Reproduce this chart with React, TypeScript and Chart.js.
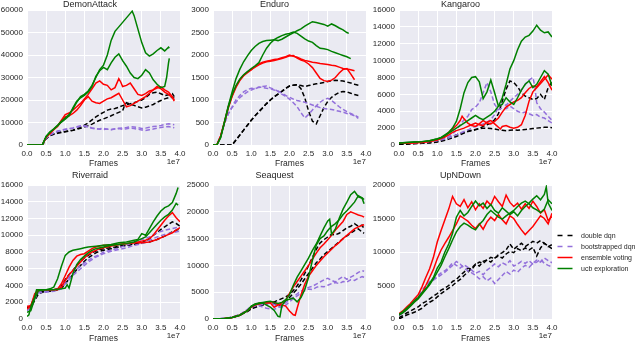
import React, { useEffect, useRef } from 'react';
import { Chart, registerables } from 'chart.js';

Chart.register(...registerables);

// x values are in units of 1e7 frames; y values are game scores.
type Pt = [number, number];

// ---------------- DemonAttack ----------------
const DA_DDQN_A: Pt[] = [[0,0],[0.4,0],[0.5,2800],[0.6,4300],[0.7,5000],[0.8,5400],[0.9,5800],[1.0,6000],[1.1,6300],[1.2,6600],[1.3,7200],[1.4,8000],[1.5,8800],[1.6,9800],[1.7,11200],[1.8,12500],[1.9,13600],[2.0,14500],[2.1,15500],[2.2,16000],[2.3,16200],[2.4,16800],[2.5,17500],[2.6,18000],[2.7,18300],[2.8,18800],[2.9,19400],[3.0,20000],[3.1,21000],[3.2,22500],[3.3,23200],[3.4,23500],[3.5,22800],[3.6,22000],[3.7,22300],[3.8,22800],[3.85,21500]];
const DA_DDQN_B: Pt[] = [[0,0],[0.4,0],[0.5,2800],[0.6,4200],[0.7,4800],[0.8,5200],[0.9,5600],[1.0,5900],[1.1,6200],[1.2,6500],[1.3,7000],[1.4,7400],[1.5,8000],[1.6,8600],[1.7,9300],[1.8,10200],[1.9,11000],[2.0,11600],[2.1,12300],[2.2,13000],[2.3,13800],[2.4,14500],[2.5,15200],[2.55,17500],[2.6,18800],[2.7,18200],[2.8,17600],[2.9,17000],[3.0,16500],[3.1,16800],[3.2,17400],[3.3,18000],[3.4,19000],[3.5,19800],[3.6,20500],[3.7,21000],[3.8,21200],[3.85,20800]];
const DA_BOOT_A: Pt[] = [[0,0],[0.4,0],[0.5,3000],[0.6,4500],[0.7,5500],[0.8,6200],[0.9,6600],[1.0,7000],[1.1,7300],[1.2,7500],[1.3,7900],[1.4,8300],[1.5,8600],[1.6,8200],[1.7,7600],[1.8,7300],[1.9,7000],[2.0,6900],[2.1,7100],[2.2,6900],[2.3,7200],[2.4,7400],[2.5,7600],[2.6,7800],[2.7,8100],[2.8,8000],[2.9,7700],[3.0,7300],[3.1,7500],[3.2,7900],[3.3,8200],[3.4,8400],[3.5,8700],[3.6,9100],[3.7,9400],[3.8,9200],[3.85,9000]];
const DA_BOOT_B: Pt[] = [[0,0],[0.4,0],[0.5,3000],[0.6,4400],[0.7,5300],[0.8,6000],[0.9,6500],[1.0,6900],[1.1,7200],[1.2,7600],[1.3,8100],[1.4,8500],[1.5,8300],[1.6,7900],[1.7,7400],[1.8,7100],[1.9,7200],[2.0,7400],[2.1,7000],[2.2,6800],[2.3,7100],[2.4,7300],[2.5,7000],[2.6,7200],[2.7,7500],[2.8,7300],[2.9,7000],[3.0,6700],[3.1,6500],[3.2,6800],[3.3,7100],[3.4,7500],[3.5,7800],[3.6,8000],[3.7,8200],[3.8,7900],[3.85,7700]];
const DA_ENS_A: Pt[] = [[0,0],[0.4,0],[0.5,3500],[0.6,5200],[0.7,7000],[0.8,8500],[0.9,11000],[1.0,13500],[1.1,14200],[1.2,15500],[1.3,17000],[1.4,18500],[1.5,20500],[1.6,22500],[1.7,25000],[1.8,27500],[1.9,28500],[2.0,27000],[2.1,26500],[2.2,24500],[2.3,25500],[2.4,29500],[2.45,28000],[2.5,26000],[2.6,26500],[2.7,27500],[2.8,25000],[2.9,22500],[3.0,22000],[3.1,22800],[3.2,24000],[3.3,24500],[3.4,25300],[3.5,25800],[3.6,24500],[3.7,23500],[3.8,21500],[3.85,20000]];
const DA_ENS_B: Pt[] = [[0,0],[0.4,0],[0.5,3500],[0.6,5000],[0.7,6800],[0.8,8200],[0.9,10500],[1.0,12500],[1.1,13000],[1.2,14000],[1.3,15500],[1.4,17500],[1.5,20000],[1.6,21500],[1.7,19500],[1.8,18800],[1.9,18500],[2.0,19500],[2.1,20500],[2.2,21000],[2.3,22000],[2.4,23000],[2.5,20000],[2.6,17000],[2.7,17500],[2.8,18500],[2.9,19500],[3.0,20500],[3.1,21500],[3.2,23000],[3.3,24500],[3.4,26000],[3.5,25000],[3.6,23500],[3.7,22500],[3.8,21000],[3.85,19500]];
const DA_UCB_A: Pt[] = [[0,0],[0.4,0],[0.5,3800],[0.6,5800],[0.7,7200],[0.8,8800],[0.9,10500],[1.0,12000],[1.1,13500],[1.2,16000],[1.3,19000],[1.4,21500],[1.5,22500],[1.6,24000],[1.7,26500],[1.8,30000],[1.9,33500],[2.0,35500],[2.1,40000],[2.2,46500],[2.3,50500],[2.4,52500],[2.5,54500],[2.6,56500],[2.7,58500],[2.75,59500],[2.8,57500],[2.9,51500],[3.0,45500],[3.1,41000],[3.2,39500],[3.3,40500],[3.4,42000],[3.5,43200],[3.6,41800],[3.7,43500],[3.72,43000]];
const DA_UCB_B: Pt[] = [[0,0],[0.4,0],[0.5,3800],[0.6,5700],[0.7,7000],[0.8,8600],[0.9,10200],[1.0,11500],[1.1,13000],[1.2,16500],[1.3,19500],[1.4,21000],[1.5,22000],[1.6,23500],[1.7,26000],[1.8,30500],[1.9,33000],[2.0,34500],[2.1,33500],[2.2,36500],[2.3,39000],[2.4,40500],[2.5,37500],[2.6,35000],[2.7,32000],[2.8,30000],[2.9,29500],[3.0,31000],[3.1,33500],[3.2,32000],[3.3,29000],[3.4,27000],[3.5,25500],[3.6,26000],[3.65,30000],[3.7,36500],[3.72,38500]];

// ---------------- Enduro ----------------
const EN_DDQN_A: Pt[] = [[0,0],[0.5,0],[0.6,110],[0.7,220],[0.8,330],[0.9,440],[1.0,550],[1.1,650],[1.2,740],[1.3,830],[1.4,920],[1.5,1000],[1.6,1070],[1.7,1130],[1.8,1190],[1.9,1260],[2.0,1310],[2.1,1330],[2.2,1340],[2.3,1320],[2.4,1300],[2.5,1320],[2.6,1340],[2.7,1360],[2.8,1370],[2.9,1390],[3.0,1410],[3.1,1430],[3.2,1440],[3.3,1430],[3.4,1420],[3.5,1400],[3.6,1380],[3.7,1350],[3.8,1330]];
const EN_DDQN_B: Pt[] = [[0,0],[0.5,0],[0.6,110],[0.7,220],[0.8,330],[0.9,440],[1.0,550],[1.1,650],[1.2,740],[1.3,830],[1.4,920],[1.5,1000],[1.6,1070],[1.7,1130],[1.8,1190],[1.9,1260],[2.0,1310],[2.1,1330],[2.2,1340],[2.3,1250],[2.4,1050],[2.5,750],[2.6,530],[2.7,470],[2.8,650],[2.9,830],[3.0,970],[3.1,1060],[3.2,1120],[3.3,1170],[3.4,1190],[3.5,1180],[3.6,1150],[3.7,1120],[3.8,1100]];
const EN_BOOT_A: Pt[] = [[0,0],[0.1,0],[0.2,200],[0.3,480],[0.4,700],[0.5,850],[0.6,1000],[0.7,1100],[0.8,1180],[0.9,1230],[1.0,1260],[1.1,1250],[1.2,1280],[1.3,1300],[1.4,1310],[1.5,1270],[1.6,1240],[1.7,1190],[1.8,1130],[1.9,1080],[2.0,1020],[2.1,940],[2.2,850],[2.3,720],[2.4,600],[2.5,680],[2.6,780],[2.7,870],[2.8,950],[2.9,1010],[3.0,1040],[3.1,990],[3.2,920],[3.3,850],[3.4,790],[3.5,740],[3.6,700],[3.7,660],[3.8,620]];
const EN_BOOT_B: Pt[] = [[0,0],[0.1,0],[0.2,200],[0.3,480],[0.4,690],[0.5,830],[0.6,950],[0.7,1050],[0.8,1120],[0.9,1180],[1.0,1220],[1.1,1260],[1.2,1290],[1.3,1280],[1.4,1260],[1.5,1250],[1.6,1220],[1.7,1200],[1.8,1150],[1.9,1100],[2.0,1060],[2.1,1020],[2.2,990],[2.3,970],[2.4,950],[2.5,920],[2.6,890],[2.7,860],[2.8,830],[2.9,810],[3.0,800],[3.1,790],[3.2,770],[3.3,750],[3.4,730],[3.5,700],[3.6,680],[3.7,650],[3.8,590]];
const EN_ENS_A: Pt[] = [[0,0],[0.1,0],[0.2,200],[0.3,520],[0.4,850],[0.5,1100],[0.6,1300],[0.7,1450],[0.8,1550],[0.9,1620],[1.0,1680],[1.1,1730],[1.2,1780],[1.3,1820],[1.4,1850],[1.5,1860],[1.6,1880],[1.7,1900],[1.8,1920],[1.9,1950],[2.0,1980],[2.1,1990],[2.2,1930],[2.3,1890],[2.4,1860],[2.5,1800],[2.6,1720],[2.7,1600],[2.8,1480],[2.9,1430],[3.0,1410],[3.1,1440],[3.2,1500],[3.3,1600],[3.4,1680],[3.5,1700],[3.6,1580],[3.7,1450]];
const EN_ENS_B: Pt[] = [[0,0],[0.1,0],[0.2,200],[0.3,500],[0.4,820],[0.5,1080],[0.6,1280],[0.7,1430],[0.8,1540],[0.9,1610],[1.0,1670],[1.1,1740],[1.2,1800],[1.3,1840],[1.4,1860],[1.5,1880],[1.6,1900],[1.7,1910],[1.8,1940],[1.9,1960],[2.0,2000],[2.1,1970],[2.2,1950],[2.3,1910],[2.4,1880],[2.5,1860],[2.6,1840],[2.7,1830],[2.8,1810],[2.9,1800],[3.0,1790],[3.1,1770],[3.2,1760],[3.3,1730],[3.4,1700],[3.5,1690],[3.6,1670],[3.7,1650]];
const EN_UCB_A: Pt[] = [[0,0],[0.1,0],[0.2,170],[0.3,520],[0.4,870],[0.5,1180],[0.6,1470],[0.7,1680],[0.8,1850],[0.9,1980],[1.0,2100],[1.1,2190],[1.2,2260],[1.3,2300],[1.4,2320],[1.5,2330],[1.6,2340],[1.7,2320],[1.8,2350],[1.9,2400],[2.0,2450],[2.1,2490],[2.2,2540],[2.3,2580],[2.4,2640],[2.5,2690],[2.6,2740],[2.7,2720],[2.8,2700],[2.9,2680],[3.0,2640],[3.1,2690],[3.2,2650],[3.3,2600],[3.4,2560],[3.5,2500],[3.55,2480]];
const EN_UCB_B: Pt[] = [[0,0],[0.1,0],[0.2,160],[0.3,500],[0.4,840],[0.5,1120],[0.6,1320],[0.7,1460],[0.8,1560],[0.9,1630],[1.0,1700],[1.1,1760],[1.2,1830],[1.3,2000],[1.4,2150],[1.5,2260],[1.6,2340],[1.7,2390],[1.8,2430],[1.9,2460],[2.0,2480],[2.1,2510],[2.2,2480],[2.3,2420],[2.4,2360],[2.5,2310],[2.6,2280],[2.7,2210],[2.8,2150],[2.9,2140],[3.0,2120],[3.1,2080],[3.2,2050],[3.3,2020],[3.4,1990],[3.5,1960],[3.6,1920]];

// ---------------- Kangaroo ----------------
const KA_DDQN_A: Pt[] = [[0,100],[0.2,150],[0.4,200],[0.6,250],[0.8,300],[1.0,400],[1.1,500],[1.2,700],[1.3,850],[1.4,1000],[1.5,1200],[1.6,1350],[1.7,1500],[1.8,1650],[1.9,1750],[2.0,1850],[2.1,1950],[2.2,2000],[2.3,2000],[2.4,1950],[2.5,1900],[2.6,1800],[2.7,1750],[2.8,1700],[2.9,1750],[3.0,1800],[3.1,1750],[3.2,1800],[3.3,1850],[3.4,1900],[3.5,1950],[3.6,2000],[3.7,2050],[3.8,2100],[3.9,2100],[4.0,2050]];
const KA_DDQN_B: Pt[] = [[0,100],[0.2,100],[0.4,150],[0.6,200],[0.8,250],[1.0,350],[1.1,450],[1.2,550],[1.3,700],[1.4,850],[1.5,1000],[1.6,1200],[1.7,1400],[1.8,1600],[1.9,1700],[2.0,1800],[2.1,1950],[2.2,2200],[2.3,2400],[2.4,2600],[2.5,3000],[2.6,3700],[2.7,5200],[2.8,6600],[2.9,7600],[3.0,7400],[3.1,6900],[3.2,6200],[3.3,5800],[3.4,5600],[3.5,5400],[3.6,5500],[3.7,6000],[3.8,5400],[3.9,6800],[4.0,7500]];
const KA_BOOT_A: Pt[] = [[0,200],[0.2,250],[0.4,300],[0.6,350],[0.8,450],[1.0,600],[1.1,700],[1.2,800],[1.3,1000],[1.4,1300],[1.5,1800],[1.6,2400],[1.7,3000],[1.8,3400],[1.9,4200],[2.0,4500],[2.1,5000],[2.2,6200],[2.3,7400],[2.4,6300],[2.5,4800],[2.6,4200],[2.7,4400],[2.8,4300],[2.9,4600],[3.0,4300],[3.1,4000],[3.2,3800],[3.3,3900],[3.4,3700],[3.5,3500],[3.6,3600],[3.7,3300],[3.8,3200],[3.9,2900],[4.0,2600]];
const KA_BOOT_B: Pt[] = [[0,200],[0.2,200],[0.4,250],[0.6,300],[0.8,400],[1.0,500],[1.2,700],[1.4,1000],[1.5,1200],[1.6,1400],[1.7,1600],[1.8,1800],[1.9,2000],[2.0,2200],[2.1,2300],[2.2,2500],[2.3,2700],[2.4,3000],[2.5,3600],[2.6,4500],[2.7,4900],[2.8,4700],[2.9,5200],[3.0,5600],[3.1,6000],[3.2,6500],[3.3,7200],[3.4,7700],[3.5,8000],[3.55,7000],[3.6,5000],[3.7,4300],[3.8,3900],[3.9,3400],[4.0,2900]];
const KA_ENS_A: Pt[] = [[0,200],[0.2,250],[0.4,300],[0.6,350],[0.8,450],[1.0,650],[1.1,800],[1.2,1100],[1.3,1500],[1.4,1900],[1.5,2300],[1.6,2900],[1.65,3400],[1.7,3100],[1.8,2600],[1.9,2300],[2.0,2200],[2.1,2500],[2.2,2900],[2.3,2600],[2.4,2500],[2.5,2800],[2.6,3200],[2.7,3900],[2.8,4500],[2.9,4800],[3.0,5100],[3.1,5300],[3.2,5600],[3.3,6200],[3.4,6700],[3.5,7000],[3.6,6900],[3.7,7500],[3.8,8100],[3.9,7400],[4.0,6500]];
const KA_ENS_B: Pt[] = [[0,200],[0.2,200],[0.4,250],[0.6,300],[0.8,400],[1.0,600],[1.1,750],[1.2,950],[1.3,1200],[1.4,1500],[1.5,1700],[1.6,1850],[1.7,2000],[1.8,2200],[1.9,2400],[2.0,2600],[2.1,2400],[2.2,2300],[2.3,2700],[2.4,2900],[2.5,2500],[2.6,2100],[2.65,1900],[2.7,2200],[2.8,2300],[2.9,2100],[3.0,2000],[3.1,2100],[3.2,2400],[3.3,3500],[3.4,5200],[3.5,6300],[3.6,6800],[3.7,7300],[3.8,7800],[3.9,8300],[4.0,7800]];
const KA_UCB_A: Pt[] = [[0,250],[0.2,300],[0.4,350],[0.6,400],[0.8,500],[1.0,700],[1.1,850],[1.2,1100],[1.3,1400],[1.4,1700],[1.5,2000],[1.6,2300],[1.7,2600],[1.8,2900],[1.9,3200],[2.0,3500],[2.1,3200],[2.2,3000],[2.3,3300],[2.4,3600],[2.5,4000],[2.6,4600],[2.7,5600],[2.8,7200],[2.9,9000],[3.0,10000],[3.1,11300],[3.2,12300],[3.3,12800],[3.4,13000],[3.5,13500],[3.6,14200],[3.7,13600],[3.8,13300],[3.9,13400],[4.0,12800]];
const KA_UCB_B: Pt[] = [[0,250],[0.2,300],[0.4,350],[0.6,400],[0.8,500],[1.0,750],[1.1,900],[1.2,1200],[1.3,1500],[1.4,2000],[1.5,2800],[1.6,4300],[1.7,6200],[1.8,7400],[1.9,8000],[2.0,8100],[2.1,7500],[2.2,5500],[2.3,6300],[2.4,7700],[2.5,6200],[2.6,4600],[2.7,4800],[2.8,5600],[2.9,5100],[3.0,4800],[3.1,5600],[3.2,6500],[3.3,7200],[3.4,7600],[3.5,6800],[3.6,7200],[3.7,8000],[3.8,8800],[3.9,8400],[4.0,7000]];

// ---------------- Riverraid ----------------
const RR_DDQN_A: Pt[] = [[0,1400],[0.1,1500],[0.2,2600],[0.3,3200],[0.4,3300],[0.5,3300],[0.6,3400],[0.7,3500],[0.8,3600],[0.9,4000],[1.0,4700],[1.1,5300],[1.2,5800],[1.3,6400],[1.4,6900],[1.5,7300],[1.6,7600],[1.7,7900],[1.8,8100],[1.9,8300],[2.0,8400],[2.2,8500],[2.4,8700],[2.6,8800],[2.8,8900],[3.0,9100],[3.1,9300],[3.2,9600],[3.3,10000],[3.4,10300],[3.5,10700],[3.6,11000],[3.7,11300],[3.8,11600],[3.9,11400],[4.0,11100]];
const RR_DDQN_B: Pt[] = [[0,1500],[0.1,1400],[0.2,2200],[0.3,3000],[0.4,3200],[0.5,3300],[0.6,3300],[0.7,3400],[0.8,3500],[0.9,3700],[1.0,4200],[1.1,4800],[1.2,5300],[1.3,5900],[1.4,6400],[1.5,6900],[1.6,7300],[1.7,7600],[1.8,7900],[1.9,8100],[2.0,8200],[2.2,8400],[2.4,8600],[2.6,8800],[2.8,9000],[3.0,9100],[3.2,9200],[3.4,9500],[3.6,9900],[3.8,10400],[4.0,10800]];
const RR_BOOT_A: Pt[] = [[0,1000],[0.1,1300],[0.2,2500],[0.3,3200],[0.5,3300],[0.7,3400],[0.8,3500],[0.9,3900],[1.0,4500],[1.1,5000],[1.2,5500],[1.3,6000],[1.4,6300],[1.5,6700],[1.6,7000],[1.7,7300],[1.8,7500],[1.9,7700],[2.0,8000],[2.2,8200],[2.4,8500],[2.6,8800],[2.8,9200],[3.0,9500],[3.2,9800],[3.4,10300],[3.6,10600],[3.8,10800],[4.0,11000]];
const RR_BOOT_B: Pt[] = [[0,1100],[0.1,1200],[0.2,2400],[0.3,3100],[0.5,3200],[0.7,3300],[0.9,3600],[1.0,4200],[1.1,4700],[1.2,5200],[1.3,5600],[1.4,6000],[1.5,6400],[1.6,6800],[1.7,7100],[1.8,7400],[2.0,7800],[2.2,8100],[2.4,8300],[2.6,8500],[2.8,8800],[3.0,9000],[3.2,9400],[3.4,9800],[3.6,10100],[3.8,10300],[4.0,10500]];
const RR_ENS_A: Pt[] = [[0,1200],[0.1,1500],[0.2,3000],[0.3,3500],[0.5,3500],[0.7,3500],[0.8,3600],[0.9,4200],[1.0,5200],[1.1,6200],[1.2,7000],[1.3,7500],[1.4,7700],[1.5,7800],[1.6,8100],[1.7,8400],[1.8,8600],[1.9,8700],[2.0,8800],[2.2,8800],[2.4,8900],[2.6,9000],[2.8,9100],[3.0,9300],[3.1,9400],[3.2,9600],[3.3,10000],[3.4,10600],[3.5,11200],[3.6,11800],[3.7,12300],[3.8,12700],[3.9,12100],[4.0,11600]];
const RR_ENS_B: Pt[] = [[0,1500],[0.1,1600],[0.2,2800],[0.3,3400],[0.5,3500],[0.7,3500],[0.8,3500],[0.9,3800],[1.0,4600],[1.1,5300],[1.2,5800],[1.3,6300],[1.4,6800],[1.5,7300],[1.6,7700],[1.7,8000],[1.8,8200],[1.9,8400],[2.0,8500],[2.2,8700],[2.4,8900],[2.6,9000],[2.8,9100],[3.0,9100],[3.2,9200],[3.4,9500],[3.6,9900],[3.8,10300],[3.9,10600],[4.0,10900]];
const RR_UCB_A: Pt[] = [[0,300],[0.05,500],[0.1,1500],[0.2,2600],[0.25,3500],[0.3,3500],[0.5,3500],[0.6,3600],[0.7,3800],[0.8,4800],[0.9,6300],[1.0,7600],[1.1,8000],[1.2,8200],[1.3,8300],[1.4,8400],[1.5,8500],[1.6,8600],[1.8,8700],[2.0,8800],[2.2,8900],[2.4,9100],[2.6,9200],[2.8,9400],[2.9,9500],[3.0,10200],[3.1,10000],[3.2,10800],[3.3,11600],[3.4,12300],[3.5,12900],[3.6,13300],[3.7,13500],[3.8,13900],[3.9,15000],[3.95,15700]];
const RR_UCB_B: Pt[] = [[0,800],[0.1,1000],[0.2,2400],[0.3,3400],[0.5,3500],[0.7,3500],[0.9,3600],[1.0,3700],[1.05,4100],[1.1,3700],[1.2,5400],[1.3,6500],[1.4,7100],[1.5,7500],[1.6,7900],[1.7,8200],[1.8,8400],[2.0,8600],[2.2,8800],[2.4,8900],[2.6,9000],[2.8,9200],[3.0,9600],[3.1,9800],[3.2,10300],[3.3,10800],[3.4,11300],[3.5,11800],[3.6,12200],[3.7,12500],[3.8,13000],[3.9,13800],[3.95,13600]];

// ---------------- Seaquest ----------------
const SQ_DDQN_A: Pt[] = [[0,0],[0.3,100],[0.5,300],[0.7,800],[0.9,1500],[1.0,2000],[1.2,2500],[1.4,2900],[1.6,3200],[1.7,3500],[1.8,3800],[1.9,4100],[2.0,4600],[2.1,5300],[2.2,6200],[2.3,7300],[2.4,8500],[2.5,10000],[2.6,11500],[2.7,13000],[2.8,14200],[2.9,14800],[3.0,15300],[3.1,15800],[3.2,15700],[3.3,16000],[3.4,16500],[3.5,17000],[3.6,17300],[3.7,17800],[3.8,17300],[3.9,17500],[3.95,16800]];
const SQ_DDQN_B: Pt[] = [[0,0],[0.3,100],[0.5,300],[0.7,700],[0.9,1400],[1.0,1900],[1.2,2400],[1.4,2800],[1.5,3200],[1.6,2900],[1.7,2500],[1.8,2400],[1.9,3200],[2.0,4000],[2.1,4800],[2.2,5600],[2.3,6500],[2.4,7500],[2.5,8500],[2.6,9500],[2.7,10500],[2.8,11200],[2.9,12000],[3.0,12600],[3.1,13200],[3.2,13800],[3.3,14400],[3.4,15000],[3.5,15500],[3.6,16000],[3.7,16500],[3.8,16800],[3.9,16200],[3.95,16000]];
const SQ_BOOT_A: Pt[] = [[0,0],[0.3,100],[0.5,300],[0.7,800],[0.9,1800],[1.0,2400],[1.1,2600],[1.2,2500],[1.3,2200],[1.4,2000],[1.5,1900],[1.6,1800],[1.7,2100],[1.8,2600],[1.9,3100],[2.0,3600],[2.1,4100],[2.2,4700],[2.3,5200],[2.4,5600],[2.5,5900],[2.6,6100],[2.7,6500],[2.8,6900],[2.9,7300],[3.0,7600],[3.1,7200],[3.2,6900],[3.3,7500],[3.4,7900],[3.5,7400],[3.6,7800],[3.7,8200],[3.8,8700],[3.9,9000],[3.95,8900]];
const SQ_BOOT_B: Pt[] = [[0,0],[0.3,100],[0.5,300],[0.7,700],[0.9,1600],[1.0,2200],[1.2,2600],[1.4,2800],[1.5,3000],[1.6,2700],[1.7,2300],[1.8,2100],[1.9,2600],[2.0,3200],[2.1,3800],[2.2,4300],[2.3,4800],[2.4,5300],[2.5,5600],[2.6,5500],[2.7,5900],[2.8,6100],[2.9,6000],[3.0,6300],[3.1,6600],[3.2,6800],[3.3,6600],[3.4,7000],[3.5,6900],[3.6,7300],[3.7,7200],[3.8,7600],[3.9,7900],[3.95,7800]];
const SQ_ENS_A: Pt[] = [[0,0],[0.3,100],[0.5,300],[0.7,700],[0.9,1600],[1.0,2300],[1.1,2700],[1.2,2900],[1.3,3000],[1.4,3000],[1.5,3000],[1.6,2200],[1.7,2600],[1.8,3000],[1.9,3500],[2.0,4800],[2.1,6000],[2.2,7000],[2.3,8000],[2.4,9000],[2.5,10000],[2.6,11200],[2.7,12300],[2.8,13300],[2.9,14000],[3.0,14800],[3.1,15600],[3.2,16600],[3.3,17400],[3.4,18200],[3.5,19500],[3.6,20000],[3.7,19700],[3.8,19400],[3.9,19200],[3.95,19000]];
const SQ_ENS_B: Pt[] = [[0,0],[0.3,100],[0.5,300],[0.7,700],[0.9,1500],[1.0,2200],[1.1,2600],[1.2,2800],[1.3,3000],[1.4,3100],[1.5,3200],[1.6,3100],[1.7,2700],[1.8,2600],[1.9,2400],[2.0,1500],[2.1,800],[2.15,700],[2.2,2000],[2.3,4500],[2.4,6500],[2.5,8000],[2.6,9000],[2.7,10000],[2.8,10800],[2.9,11600],[3.0,12300],[3.1,13000],[3.2,13700],[3.3,14300],[3.4,15000],[3.5,15600],[3.6,16200],[3.7,16800],[3.8,17200],[3.9,17500],[3.95,17600]];
const SQ_UCB_A: Pt[] = [[0,0],[0.3,100],[0.5,300],[0.7,700],[0.9,1600],[1.0,2400],[1.1,2800],[1.2,3000],[1.3,3100],[1.4,3200],[1.5,3300],[1.6,3100],[1.7,2900],[1.8,3100],[1.9,3600],[2.0,4500],[2.1,6300],[2.2,7800],[2.3,9000],[2.4,10200],[2.5,11400],[2.6,12800],[2.7,14000],[2.8,15500],[2.9,17000],[3.0,18300],[3.05,18600],[3.1,15800],[3.2,16800],[3.3,18800],[3.4,20500],[3.5,21800],[3.6,23200],[3.7,23800],[3.8,22800],[3.9,22500],[3.95,21500]];
const SQ_UCB_B: Pt[] = [[0,0],[0.3,100],[0.5,300],[0.7,700],[0.9,1500],[1.0,2300],[1.1,2700],[1.2,2900],[1.3,3000],[1.4,2600],[1.5,2200],[1.6,1600],[1.7,500],[1.75,400],[1.8,2500],[1.9,3500],[2.0,3700],[2.1,3900],[2.2,3200],[2.3,4000],[2.4,5500],[2.5,7800],[2.6,11000],[2.7,13800],[2.8,15000],[2.9,15500],[3.0,16500],[3.1,17300],[3.2,17800],[3.3,18500],[3.4,19500],[3.5,20200],[3.6,21000],[3.7,21800],[3.8,23000],[3.9,22600],[3.95,22300]];

// ---------------- UpNDown ----------------
const UD_DDQN_A: Pt[] = [[0,200],[0.1,500],[0.2,900],[0.3,1200],[0.4,1500],[0.5,1800],[0.6,2300],[0.7,2600],[0.8,3000],[0.9,3400],[1.0,3800],[1.1,4300],[1.2,4600],[1.3,5000],[1.4,5600],[1.5,5900],[1.6,6500],[1.7,7000],[1.8,7600],[1.9,7400],[2.0,8100],[2.1,8500],[2.2,8300],[2.3,8800],[2.4,9200],[2.5,9000],[2.6,9600],[2.7,9900],[2.8,10300],[2.9,11200],[3.0,10400],[3.1,10900],[3.2,11300],[3.3,10800],[3.4,11200],[3.5,11600],[3.6,11300],[3.7,11700],[3.8,11300],[3.9,10800],[4.0,11100]];
const UD_DDQN_B: Pt[] = [[0,0],[0.1,300],[0.2,600],[0.3,800],[0.4,1000],[0.5,1300],[0.6,1600],[0.7,2100],[0.8,2500],[0.9,2800],[1.0,3300],[1.1,3800],[1.2,4200],[1.3,4600],[1.4,5000],[1.5,5500],[1.6,5900],[1.7,6500],[1.8,7000],[1.9,7600],[2.0,8200],[2.1,7900],[2.2,8600],[2.3,8800],[2.4,8500],[2.5,9100],[2.6,9400],[2.7,9100],[2.8,9700],[2.9,10100],[3.0,9900],[3.1,10500],[3.2,10200],[3.3,10600],[3.4,10300],[3.5,10700],[3.6,9400],[3.7,10600],[3.8,11300],[3.9,10900],[4.0,10500]];
const UD_BOOT_A: Pt[] = [[0,600],[0.1,1000],[0.2,1600],[0.3,2200],[0.4,2900],[0.5,3500],[0.6,4300],[0.7,5000],[0.8,5600],[0.9,5900],[1.0,6400],[1.1,6900],[1.2,7200],[1.3,7700],[1.4,8400],[1.5,8000],[1.6,7600],[1.7,8100],[1.8,7700],[1.9,7300],[2.0,6800],[2.1,7100],[2.2,6600],[2.3,7300],[2.4,7700],[2.5,8200],[2.6,7800],[2.7,8400],[2.8,8100],[2.9,8700],[3.0,7900],[3.1,8200],[3.2,8600],[3.3,8300],[3.4,8700],[3.5,8200],[3.6,8500],[3.7,8900],[3.8,8300],[3.9,8000],[4.0,7800]];
const UD_BOOT_B: Pt[] = [[0,500],[0.1,900],[0.2,1400],[0.3,2000],[0.4,2700],[0.5,3300],[0.6,4000],[0.7,4700],[0.8,5400],[0.9,5800],[1.0,6200],[1.1,6600],[1.2,7000],[1.3,7500],[1.4,8000],[1.5,8600],[1.6,8200],[1.7,7600],[1.8,7200],[1.9,6900],[2.0,6500],[2.1,6000],[2.2,6300],[2.3,5700],[2.4,6100],[2.5,5300],[2.6,5900],[2.7,6500],[2.8,7100],[2.9,6700],[3.0,7300],[3.1,7000],[3.2,7600],[3.3,8000],[3.4,7700],[3.5,8300],[3.6,8800],[3.7,8500],[3.8,9100],[3.9,8700],[4.0,8400]];
const UD_ENS_A: Pt[] = [[0,800],[0.1,1200],[0.2,1800],[0.3,2300],[0.4,3000],[0.5,3600],[0.6,4800],[0.7,6200],[0.8,7500],[0.9,9200],[1.0,11500],[1.1,13200],[1.2,14800],[1.3,16400],[1.4,18300],[1.5,17200],[1.6,16800],[1.7,17800],[1.8,16600],[1.9,17500],[2.0,16300],[2.1,17200],[2.2,16500],[2.3,17600],[2.4,17000],[2.5,18300],[2.6,17500],[2.7,16800],[2.8,18500],[2.9,17400],[3.0,16800],[3.1,17300],[3.2,16400],[3.3,17200],[3.4,16500],[3.5,17600],[3.6,16800],[3.7,15800],[3.8,16300],[3.9,14700],[4.0,15300]];
const UD_ENS_B: Pt[] = [[0,700],[0.1,1000],[0.2,1500],[0.3,2000],[0.4,2600],[0.5,3100],[0.6,3900],[0.7,5000],[0.8,6200],[0.9,7400],[1.0,9000],[1.1,10300],[1.2,11300],[1.3,12200],[1.4,13200],[1.5,14200],[1.6,15400],[1.7,15000],[1.8,14600],[1.9,14000],[2.0,13500],[2.1,14200],[2.2,13400],[2.3,14500],[2.4,15200],[2.5,14700],[2.6,15600],[2.7,14800],[2.8,14200],[2.9,15400],[3.0,15000],[3.1,14100],[3.2,13300],[3.3,12600],[3.4,13200],[3.5,13800],[3.6,14600],[3.7,15400],[3.8,15000],[3.9,14200],[4.0,15800]];
const UD_UCB_A: Pt[] = [[0,700],[0.1,1100],[0.2,1600],[0.3,2100],[0.4,2700],[0.5,3200],[0.6,3900],[0.7,4500],[0.8,5300],[0.9,6200],[1.0,7600],[1.1,8500],[1.2,10000],[1.3,11200],[1.4,12800],[1.5,15200],[1.6,16200],[1.7,15400],[1.8,15900],[1.9,16800],[2.0,17600],[2.1,16900],[2.2,17300],[2.3,16500],[2.4,17100],[2.5,16200],[2.6,15800],[2.7,16600],[2.8,16100],[2.9,15600],[3.0,16000],[3.1,15400],[3.2,16200],[3.3,16800],[3.4,17300],[3.5,17900],[3.6,18400],[3.7,17800],[3.8,18600],[3.85,19700],[3.9,17300],[4.0,16200]];
const UD_UCB_B: Pt[] = [[0,600],[0.1,900],[0.2,1400],[0.3,1900],[0.4,2500],[0.5,3000],[0.6,3700],[0.7,4400],[0.8,5100],[0.9,6000],[1.0,7000],[1.1,8000],[1.2,9300],[1.3,10500],[1.4,11800],[1.5,13000],[1.6,13800],[1.7,14300],[1.8,14000],[1.9,13600],[2.0,13300],[2.1,14100],[2.2,14700],[2.3,15600],[2.4,16200],[2.5,15700],[2.6,15200],[2.7,14900],[2.8,15400],[2.9,15800],[3.0,16200],[3.1,16800],[3.2,17300],[3.3,17600],[3.4,17200],[3.5,16600],[3.6,16300],[3.7,15900],[3.8,16400],[3.9,17800],[4.0,17200]];

// ---------------- Axis ticks / labels ----------------
const X_TICK_STEP = 0.5;
const X_MAX = 4;
const X_OFFSET_LABEL = '1e7';
const X_AXIS_LABEL = 'Frames';
const TITLES = ['DemonAttack', 'Enduro', 'Kangaroo', 'Riverraid', 'Seaquest', 'UpNDown'];
const Y_MAX = [60000, 3000, 16000, 16000, 25000, 20000];
const Y_STEP = [10000, 500, 2000, 2000, 5000, 5000];
const METHOD_LABELS = ['double dqn', 'bootstrapped dqn', 'ensemble voting', 'ucb exploration'];

const SERIES: Pt[][][][] = [
  [[DA_DDQN_A, DA_DDQN_B], [DA_BOOT_A, DA_BOOT_B], [DA_ENS_A, DA_ENS_B], [DA_UCB_A, DA_UCB_B]],
  [[EN_DDQN_A, EN_DDQN_B], [EN_BOOT_A, EN_BOOT_B], [EN_ENS_A, EN_ENS_B], [EN_UCB_A, EN_UCB_B]],
  [[KA_DDQN_A, KA_DDQN_B], [KA_BOOT_A, KA_BOOT_B], [KA_ENS_A, KA_ENS_B], [KA_UCB_A, KA_UCB_B]],
  [[RR_DDQN_A, RR_DDQN_B], [RR_BOOT_A, RR_BOOT_B], [RR_ENS_A, RR_ENS_B], [RR_UCB_A, RR_UCB_B]],
  [[SQ_DDQN_A, SQ_DDQN_B], [SQ_BOOT_A, SQ_BOOT_B], [SQ_ENS_A, SQ_ENS_B], [SQ_UCB_A, SQ_UCB_B]],
  [[UD_DDQN_A, UD_DDQN_B], [UD_BOOT_A, UD_BOOT_B], [UD_ENS_A, UD_ENS_B], [UD_UCB_A, UD_UCB_B]],
];

// ---------------- Styling / layout ----------------
const METHOD_STYLE = [
  { color: '#000000', dash: [4.5, 2.5], order: 3 },
  { color: '#9370DB', dash: [4.5, 2.5], order: 2 },
  { color: '#FF0000', dash: [] as number[], order: 1 },
  { color: '#008000', dash: [] as number[], order: 0 },
];
const FONT = "'Liberation Sans', Arial, sans-serif";
const TEXT = '#262626';
const BG = '#EAEAF2';
const PLOT_W = 153;
const COL_PLOT_LEFT = [27, 213, 399];
const COL_YAXIS_W = [27, 30, 30];
const RIGHT_PAD = 10;
const ROWS = [
  { top: 0, titleH: 10, titlePadTop: 0, plotH: 135, xH: 23 },
  { top: 171, titleH: 14, titlePadTop: 0.5, plotH: 134, xH: 24 },
];

const bgPlugin = {
  id: 'plotBg',
  beforeDraw(chart: any) {
    const { ctx, chartArea } = chart;
    if (!chartArea) return;
    ctx.save();
    ctx.fillStyle = BG;
    ctx.fillRect(chartArea.left, chartArea.top, chartArea.right - chartArea.left, chartArea.bottom - chartArea.top);
    ctx.restore();
  },
};

const offsetTextPlugin = {
  id: 'offsetText',
  afterDraw(chart: any) {
    const { ctx, chartArea } = chart;
    ctx.save();
    ctx.font = `8px ${FONT}`;
    ctx.fillStyle = TEXT;
    ctx.textAlign = 'right';
    ctx.textBaseline = 'middle';
    ctx.fillText(X_OFFSET_LABEL, chartArea.right, chartArea.bottom + 17);
    ctx.restore();
  },
};

function Panel({ idx }: { idx: number }) {
  const ref = useRef<HTMLCanvasElement | null>(null);
  const col = idx % 3;
  const row = ROWS[Math.floor(idx / 3)];
  const yW = COL_YAXIS_W[col];
  const left = COL_PLOT_LEFT[col] - yW;
  const width = yW + PLOT_W + RIGHT_PAD;
  const height = row.titleH + row.plotH + row.xH;

  useEffect(() => {
    if (!ref.current) return;
    const datasets: any[] = [];
    SERIES[idx].forEach((runs, m) => {
      const st = METHOD_STYLE[m];
      runs.forEach((pts, r) => {
        datasets.push({
          label: `${METHOD_LABELS[m]} ${r + 1}`,
          data: pts.map(([x, y]) => ({ x, y })),
          borderColor: st.color,
          backgroundColor: st.color,
          borderWidth: 1.5,
          borderDash: st.dash,
          pointRadius: 0,
          fill: false,
          tension: 0,
          order: st.order,
        });
      });
    });
    const tickFont = { family: FONT, size: 8 };
    const chart = new Chart(ref.current, {
      type: 'line',
      data: { datasets },
      options: {
        animation: false,
        responsive: false,
        maintainAspectRatio: false,
        devicePixelRatio: 1,
        layout: { padding: { left: 0, right: RIGHT_PAD, top: 0, bottom: 0 } },
        plugins: {
          legend: { display: false },
          tooltip: { enabled: false },
          title: {
            display: true,
            text: TITLES[idx],
            color: TEXT,
            font: { family: FONT, size: 9, lineHeight: 1, weight: 'normal' },
            padding: { top: row.titlePadTop, bottom: row.titleH - 9 - row.titlePadTop },
          },
        },
        scales: {
          x: {
            type: 'linear',
            min: 0,
            max: X_MAX,
            border: { display: false },
            grid: { color: '#FFFFFF', lineWidth: 1, drawTicks: false },
            ticks: {
              stepSize: X_TICK_STEP,
              autoSkip: false,
              maxRotation: 0,
              minRotation: 0,
              padding: 4,
              color: TEXT,
              font: tickFont,
              callback: (v: any) => Number(v).toFixed(1),
            },
            title: {
              display: true,
              text: X_AXIS_LABEL,
              color: TEXT,
              font: { family: FONT, size: 8.5, lineHeight: 1 },
              padding: { top: 0, bottom: 0 },
            },
            afterFit: (s: any) => { s.height = row.xH; },
          },
          y: {
            type: 'linear',
            min: 0,
            max: Y_MAX[idx],
            border: { display: false },
            grid: { color: '#FFFFFF', lineWidth: 1, drawTicks: false },
            ticks: {
              stepSize: Y_STEP[idx],
              padding: 4,
              color: TEXT,
              font: tickFont,
              callback: (v: any) => String(v),
            },
            afterFit: (s: any) => { s.width = yW; },
          },
        },
      } as any,
      plugins: [bgPlugin, offsetTextPlugin],
    });
    return () => chart.destroy();
  }, [idx]);

  return (
    <canvas
      ref={ref}
      width={width}
      height={height}
      style={{ position: 'absolute', left, top: row.top, width, height }}
    />
  );
}

function Legend() {
  return (
    <div style={{ position: 'absolute', left: 557, top: 229.5, fontFamily: FONT, fontSize: 7, color: TEXT }}>
      {METHOD_LABELS.map((lab, i) => (
        <div key={lab} style={{ height: 11, display: 'flex', alignItems: 'center', whiteSpace: 'nowrap' }}>
          <svg width={16} height={11} style={{ display: 'block' }}>
            <line
              x1={0.5}
              y1={5.5}
              x2={15.5}
              y2={5.5}
              stroke={METHOD_STYLE[i].color}
              strokeWidth={1.5}
              strokeDasharray={METHOD_STYLE[i].dash.length ? '5 5' : undefined}
            />
          </svg>
          <span style={{ marginLeft: 8, lineHeight: '11px' }}>{lab}</span>
        </div>
      ))}
    </div>
  );
}

export default function App() {
  return (
    <div style={{ position: 'absolute', left: 0, top: 0, width: 640, height: 342, overflow: 'hidden', background: '#FFFFFF' }}>
      {TITLES.map((_, i) => (
        <Panel key={i} idx={i} />
      ))}
      <Legend />
    </div>
  );
}
